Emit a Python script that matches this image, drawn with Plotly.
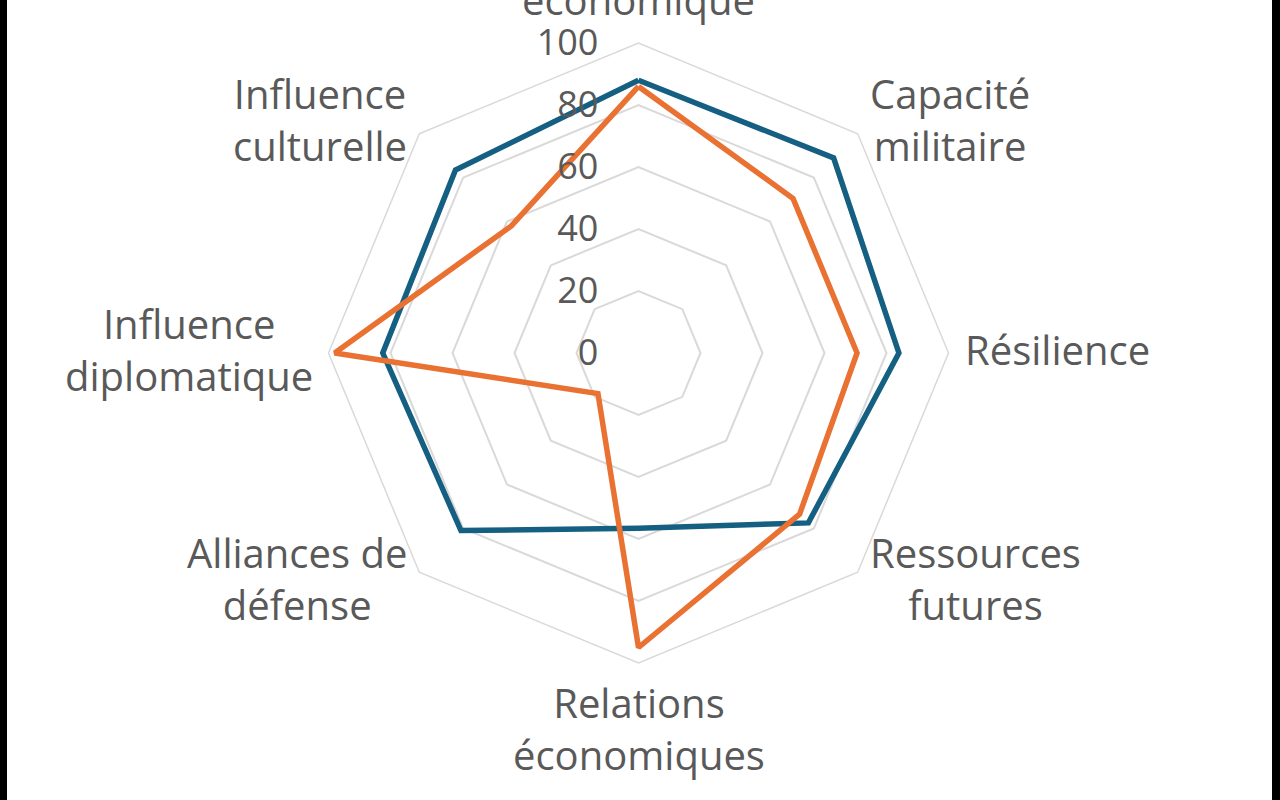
import math
import plotly.graph_objects as go

categories = [
    "Puissance<br>économique",
    "Capacité<br>militaire",
    "Résilience",
    "Ressources<br>futures",
    "Relations<br>économiques",
    "Alliances de<br>défense",
    "Influence<br>diplomatique",
    "Influence<br>culturelle",
]
series_blue = [88, 89, 84, 77.5, 56.5, 81, 82.5, 83.5]
series_orange = [86, 70.5, 70.5, 73.5, 95, 18.5, 98, 58]
radial_ticks = [0, 20, 40, 60, 80, 100]

BLUE = "#156082"
ORANGE = "#E97132"
TEXT = "#595959"
GRID = "#D9D9D9"
FONT = "Open Sans"

W, H = 1280, 800
cx, cy, R = 638.5, 353, 310

fig = go.Figure()
for vals, col in [(series_blue, BLUE), (series_orange, ORANGE)]:
    fig.add_trace(go.Scatterpolar(
        r=vals + [vals[0]],
        theta=categories + [categories[0]],
        mode="lines",
        line=dict(color=col, width=5.5),
        showlegend=False,
        hoverinfo="skip",
    ))

# category labels placed just outside the outer ring, centred per line
annotations = []
pad = 14
n = len(categories)
for i, lab in enumerate(categories):
    ang = math.radians(90 - 360 * i / n)
    c, s = math.cos(ang), math.sin(ang)
    x = cx + (R + pad) * c
    y = cy - (R + pad) * s - 4
    if abs(c) < 1e-6:
        xa = "center"
    elif c > 0:
        xa = "left"
    else:
        xa = "right"
    if abs(s) < 1e-6 or abs(c) > 1e-6:
        ya = "middle"
    elif s > 0:
        ya = "bottom"
    else:
        ya = "top"
    if xa == "center" and ya == "bottom":
        y += 4
    annotations.append(dict(
        text=lab, x=x / W, y=1 - y / H, xref="paper", yref="paper",
        xanchor=xa, yanchor=ya, align="center", showarrow=False,
        font=dict(size=40, color=TEXT, family=FONT),
    ))

fig.update_layout(
    width=W, height=H, autosize=False,
    margin=dict(l=0, r=0, t=0, b=0),
    paper_bgcolor="white",
    font=dict(family=FONT, color=TEXT, size=38),
    annotations=annotations,
    polar=dict(
        domain=dict(x=[(cx - R) / W, (cx + R) / W],
                    y=[(H - cy - R) / H, (H - cy + R) / H]),
        bgcolor="rgba(0,0,0,0)",
        gridshape="linear",
        radialaxis=dict(
            range=[0, 100], tickvals=radial_ticks,
            angle=90, side="counterclockwise",
            showline=False, showgrid=True,
            gridcolor=GRID, gridwidth=1.5,
            ticks="outside", ticklen=27, tickcolor="rgba(0,0,0,0)",
            tickfont=dict(size=36, color=TEXT, family=FONT),
            tickangle=90,
        ),
        angularaxis=dict(
            rotation=90, direction="clockwise",
            showgrid=False, showline=True,
            linecolor=GRID, linewidth=1.5,
            ticks="", showticklabels=False,
        ),
    ),
    shapes=[
        dict(type="rect", xref="paper", yref="paper", x0=0, x1=7 / W, y0=0, y1=1,
             fillcolor="black", line=dict(width=0), layer="above"),
        dict(type="rect", xref="paper", yref="paper", x0=1272 / W, x1=1, y0=0, y1=1,
             fillcolor="black", line=dict(width=0), layer="above"),
    ],
)

fig.write_html("out.html")
